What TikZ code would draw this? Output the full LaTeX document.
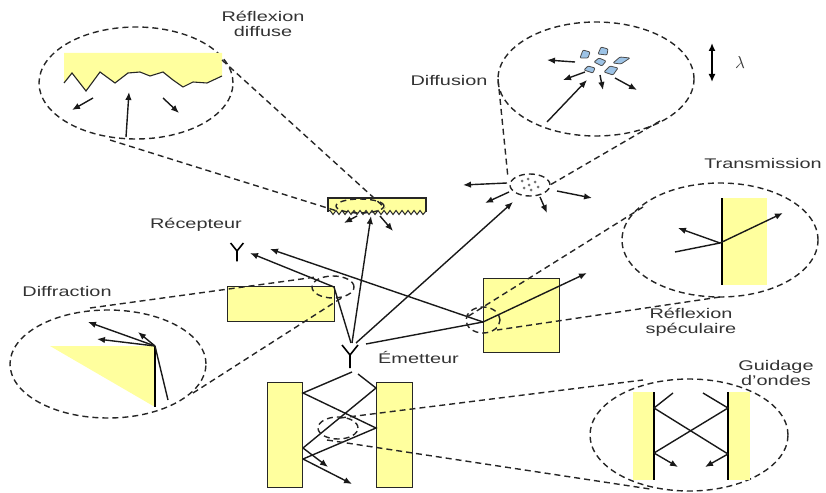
\documentclass[tikz,border=0pt]{standalone}
\usepackage{fontspec}
\setmainfont{Liberation Sans}
\usetikzlibrary{arrows.meta,shapes.geometric}
\definecolor{wallyellow}{HTML}{FFFF9E}
\definecolor{dropblue}{HTML}{9DC3E6}
\newcommand\wlabel[1]{\scalebox{1.42}[1]{\fontsize{14}{15}\selectfont\begin{tabular}{@{}c@{}}#1\end{tabular}}}
\begin{document}
\begin{tikzpicture}[x=1pt,y=-1pt,
  wallbox/.style={fill=wallyellow, draw=black!85, line width=1.4pt},
  lens/.style={shape=ellipse, draw=black!85, line width=1.4pt, dash pattern=on 6pt off 4pt, inner sep=0pt},
  link/.style={draw=black!85, line width=1.4pt, dash pattern=on 6pt off 4pt},
  ray/.style={draw=black!90, line width=1.4pt},
  arr/.style={ray, -{Latex[length=8pt,width=6.5pt]}},
  lbl/.style={text=black!80, inner sep=0pt},
  particle/.style={fill=dropblue, draw=black!70, line width=0.8pt, rounded corners=1pt},
  antenna/.pic={\draw[line width=1.6pt] (-8,0) -- (0,10) -- (8,0) (0,10) -- (0,23);}
]
\useasboundingbox (0,0) rectangle (826,492);

% ---------- walls ----------
\node[wallbox, minimum width=107pt, minimum height=35pt, inner sep=0pt, anchor=north west] (diffwall) at (227,286) {};
\node[wallbox, minimum width=76pt, minimum height=74pt, inner sep=0pt, anchor=north west] (specwall) at (483,278) {};
\node[wallbox, minimum width=35pt, minimum height=105pt, inner sep=0pt, anchor=north west] (guideL) at (267,382) {};
\node[wallbox, minimum width=36pt, minimum height=105pt, inner sep=0pt, anchor=north west] (guideR) at (376,382) {};

% rough ceiling
\fill[wallyellow] (328,198) -- (426,198) -- (426,211)
  \foreach \i in {1,...,16} { -- ({426-\i*6+3},214.5) -- ({426-\i*6},210.5) } -- (328,211) -- cycle;
\draw[line width=1.4pt, black!85] (328,212) -- (328,198) -- (426,198) -- (426,212);
\draw[line width=1pt, black!85] (426,211)
  \foreach \i in {1,...,16} { -- ({426-\i*6+3},214.5) -- ({426-\i*6},210.5) } -- (328,211);
\coordinate (ceiling) at (377,206);

% ---------- antennas ----------
\pic at (350,345) {antenna};
\coordinate (emitter) at (350,343);
\pic[scale=0.8] at (237,243) {antenna};
\coordinate (receiver) at (237,250);
\node[lbl, anchor=west] (emitterlabel) at (378,360) {\wlabel{Émetteur}};
\node[lbl] (receiverlabel) at (196,225) {\wlabel{Récepteur}};

% ---------- main rays ----------
\coordinate (corner) at (334,287);
\coordinate (specpt) at (483,322);
\draw[ray] (351,343) -- (corner);
\draw[arr] (corner) -- (250,253);
\draw[ray] (366,344) -- (specpt);
\draw[arr] (specpt) -- (270,249);
\draw[arr] (specpt) -- (587,273);
\draw[arr] (352,343) -- (371,216);
\draw[arr] (356,343) -- (513,202);
\draw[arr] (357,216) -- (344,223);
\draw[arr] (380,216) -- (393,231);

% scatterer cloud
\node[lens, minimum width=40pt, minimum height=22pt] (cloud) at (530,185) {};
\foreach \p in {(522,181),(528,179),(535,182),(524,188),(531,190),(538,187),(529,185)}
  \fill[black!55] \p circle (1.5);
\draw[arr] (507,183) -- (463,185);
\draw[arr] (509,192) -- (485,203);
\draw[arr] (540,197) -- (547,213);
\draw[arr] (557,191) -- (592,198);

% waveguide rays
\draw[ray] (358,374) -- (376,388) -- (303,448);
\draw[arr] (303,448) -- (328,467);
\draw[ray] (352,372) -- (303,393) -- (376,428) -- (303,459);
\draw[arr] (303,459) -- (352,484);

% small lenses
\node[lens, minimum width=48pt, minimum height=14pt] (ceilinglens) at (360,206) {};
\node[lens, minimum width=42pt, minimum height=22pt] (cornerlens) at (333,287) {};
\node[lens, minimum width=34pt, minimum height=26pt] (speclens) at (483,320) {};
\node[lens, minimum width=40pt, minimum height=22pt] (guidelens) at (338,428) {};

% ---------- magnified views ----------
% diffuse reflection
\node[lens, minimum width=194pt, minimum height=112pt] (diffuselens) at (136,83) {};
\fill[wallyellow] (64,53) -- (222,53) -- (222,76) -- (207,83) -- (193,82) -- (183,87) -- (173,80)
  -- (163,72) -- (150,76) -- (140,72) -- (128,73) -- (115,83) -- (100,72) -- (86,91) -- (72,73) -- (64,83) -- cycle;
\draw[line width=1.1pt, black!85] (222,76) -- (207,83) -- (193,82) -- (183,87) -- (173,80)
  -- (163,72) -- (150,76) -- (140,72) -- (128,73) -- (115,83) -- (100,72) -- (86,91) -- (72,73) -- (64,83);
\draw[arr] (93,98) -- (72,110);
\draw[arr] (126,137) -- (129,92);
\draw[arr] (163,98) -- (179,113);
\node[lbl] (diffuselabel) at (263,26) {\wlabel{Réflexion\\diffuse}};

% diffusion
\node[lens, minimum width=196pt, minimum height=114pt] (diffusionlens) at (596,79) {};
\draw[particle] (580,58) -- (583,50) -- (590,52) -- (588,58) -- cycle;
\draw[particle] (598,54) -- (601,47) -- (608,49) -- (607,55) -- cycle;
\draw[particle] (594,62) -- (599,58) -- (606,61) -- (602,66) -- cycle;
\draw[particle] (613,63) -- (620,57) -- (630,58) -- (621,64) -- cycle;
\draw[particle] (584,70) -- (588,66) -- (595,68) -- (593,73) -- cycle;
\draw[particle] (604,72) -- (610,66) -- (618,68) -- (613,75) -- cycle;
\draw[arr] (575,62) -- (547,60);
\draw[arr] (585,72) -- (563,80);
\draw[arr] (600,75) -- (603,90);
\draw[arr] (615,78) -- (637,90);
\draw[arr] (547,122) -- (587,80);
\node[lbl] (diffusionlabel) at (449,83) {\wlabel{Diffusion}};
\coordinate (lamtop) at (712,43);
\coordinate (lambot) at (712,82);
\draw[line width=1.8pt, {Latex[length=8pt,width=7pt]}-{Latex[length=8pt,width=7pt]}] (lamtop) -- (lambot);
\node[lbl] (lambda) at (740,63) {\fontsize{16}{16}\selectfont$\lambda$};

% transmission / specular reflection
\node[lens, minimum width=196pt, minimum height=114pt] (translens) at (720,240) {};
\fill[wallyellow] (722,198) rectangle (767,285);
\draw[line width=1.6pt] (722,198) -- (722,285);
\coordinate (hit) at (720,243);
\draw[ray] (675,252) -- (hit);
\draw[arr] (hit) -- (678,228);
\draw[arr] (hit) -- (783,213);
\node[lbl] (translabel) at (763,165) {\wlabel{Transmission}};
\node[lbl] (speclabel) at (691,323) {\wlabel{Réflexion\\spéculaire}};

% diffraction
\node[lens, minimum width=196pt, minimum height=108pt] (diffrlens) at (108,364) {};
\fill[wallyellow] (50,346) -- (155,346) -- (155,407) -- cycle;
\draw[line width=1.6pt] (155,346) -- (155,407);
\coordinate (edge) at (155,346);
\draw[ray] (168,400) -- (edge);
\draw[arr] (edge) -- (88,322);
\draw[arr] (edge) -- (97,339);
\draw[arr] (edge) -- (138,332);
\node[lbl] (diffrlabel) at (67,293) {\wlabel{Diffraction}};

% wave guiding
\node[lens, minimum width=198pt, minimum height=112pt] (guidelensbig) at (689,435) {};
\fill[wallyellow] (633,392) rectangle (654,480);
\fill[wallyellow] (728,392) rectangle (750,480);
\draw[line width=1.6pt] (654,392) -- (654,480);
\draw[line width=1.6pt] (728,392) -- (728,480);
\draw[ray] (673,393) -- (654,408) -- (728,454);
\draw[arr] (728,454) -- (705,467);
\draw[ray] (703,393) -- (728,408) -- (654,453);
\draw[arr] (654,453) -- (678,467);
\node[lbl] (guidelabel) at (776,375) {\wlabel{Guidage\\d'ondes}};

% ---------- zoom links ----------
\draw[link] (222,60) -- (385,208);
\draw[link] (110,140) -- (337,211);
\draw[link] (498,79) -- (508,178);
\draw[link] (660,121) -- (550,185);
\draw[link] (643,207) -- (467,317);
\draw[link] (720,297) -- (497,330);
\draw[link] (90,308) -- (316,277);
\draw[link] (193,393) -- (343,297);
\draw[link] (340,418) -- (643,380);
\draw[link] (327,440) -- (650,489);
\end{tikzpicture}
\end{document}
